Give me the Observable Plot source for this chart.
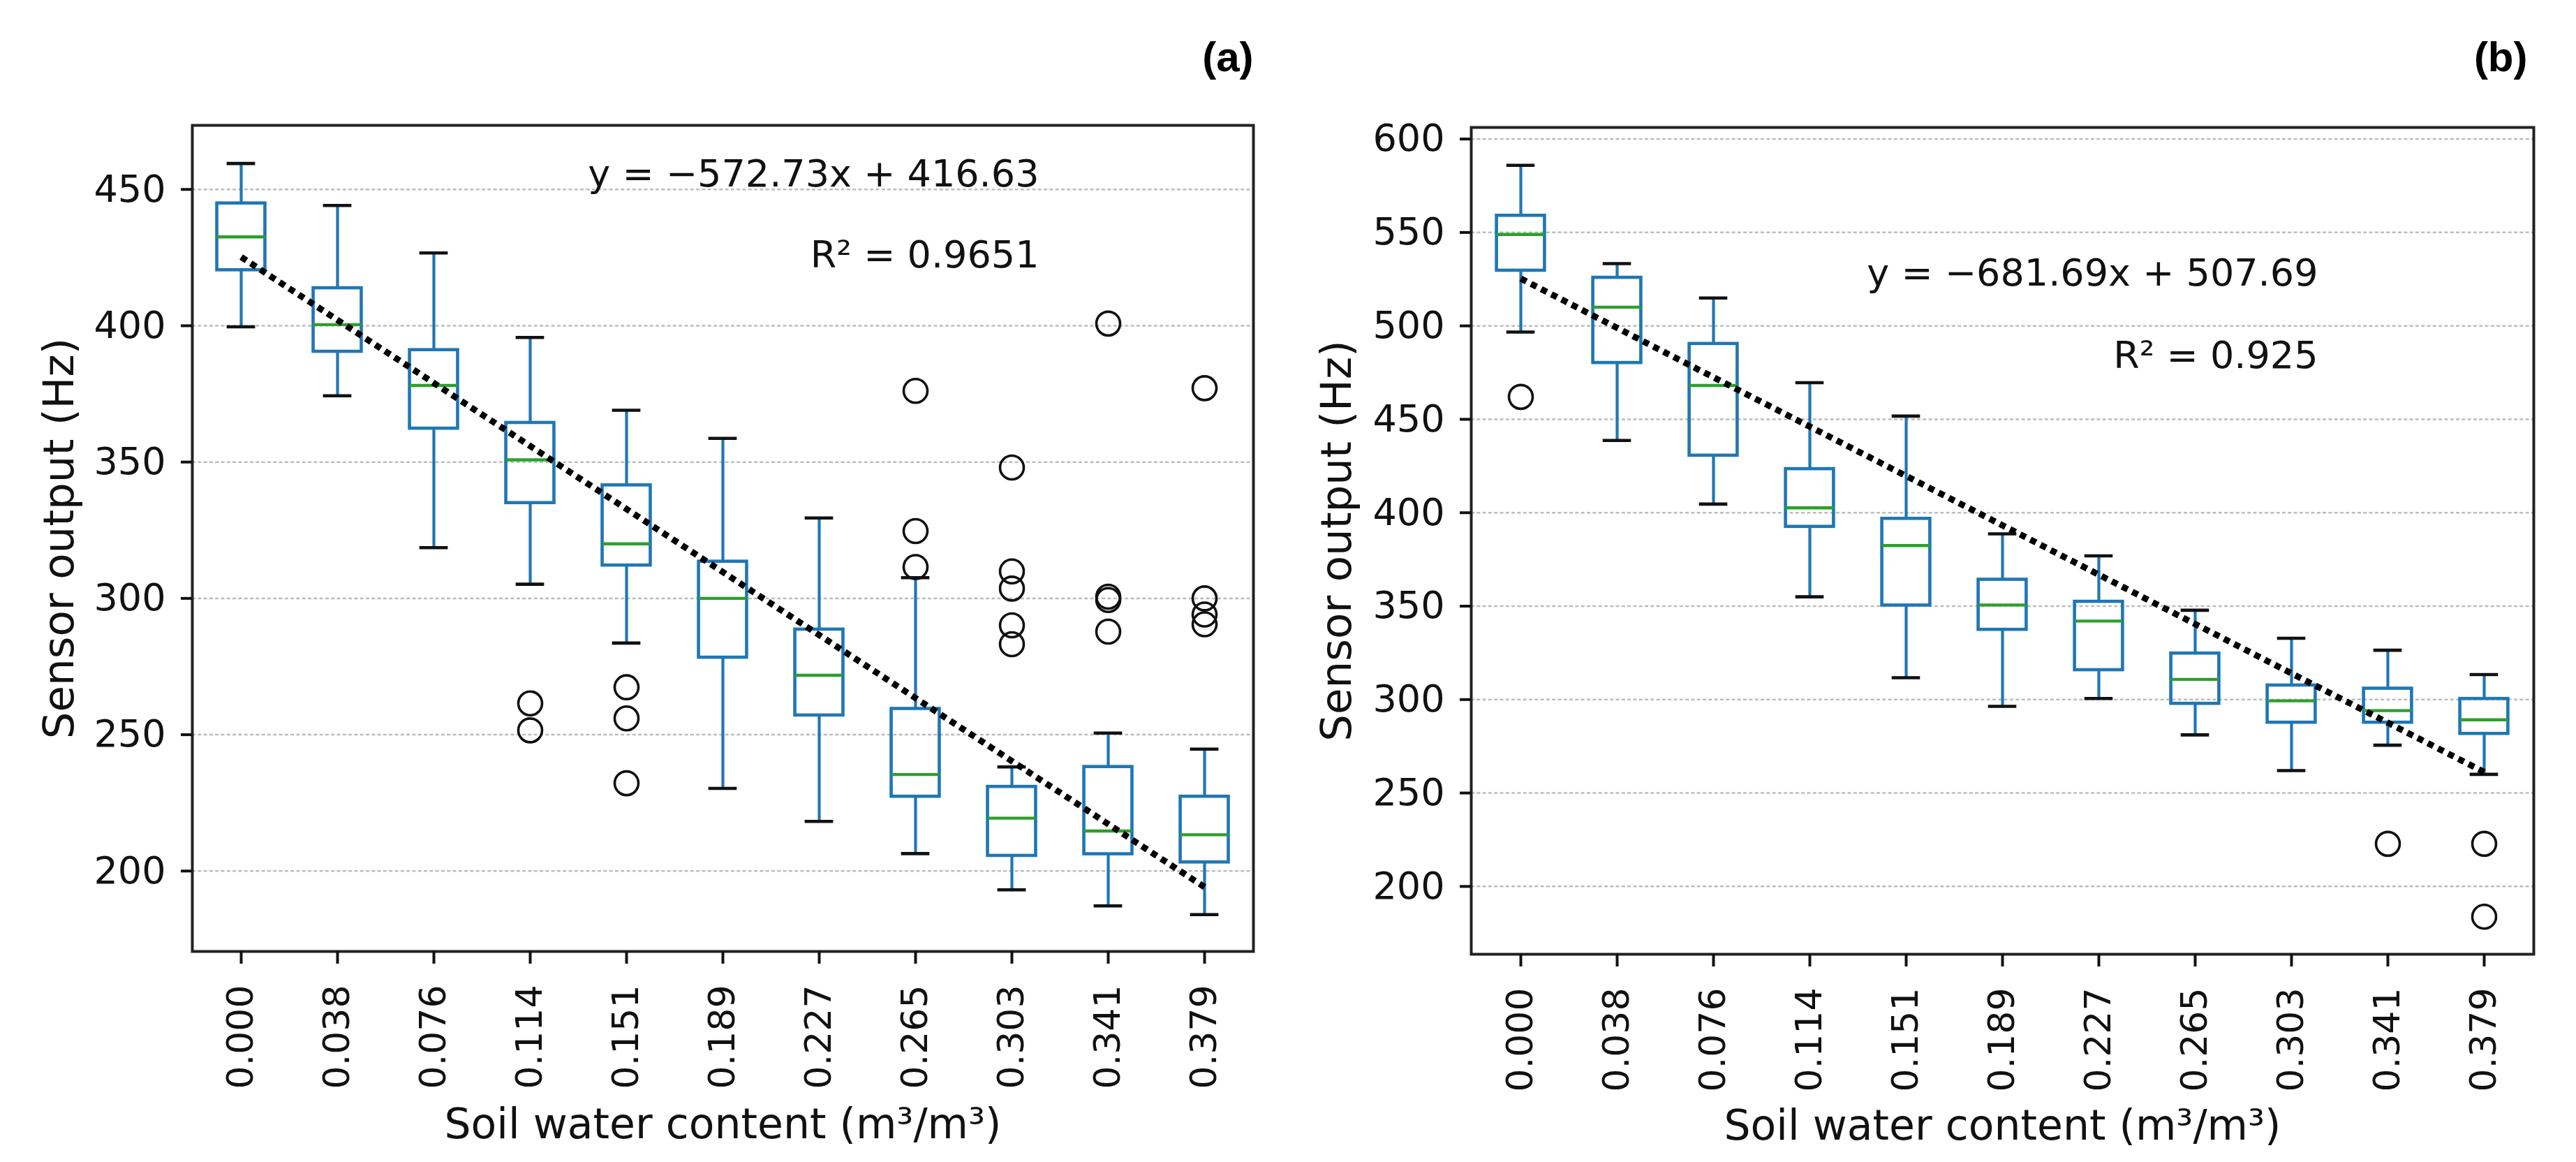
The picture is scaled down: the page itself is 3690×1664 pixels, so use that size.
<!DOCTYPE html>
<html><head><meta charset="utf-8">
<script src="https://cdn.jsdelivr.net/npm/d3@7"></script>
<script src="https://cdn.jsdelivr.net/npm/@observablehq/plot@0.6"></script>
<style>
body{margin:0;background:#fff;}
#wrap{display:flex;width:3690px;height:1664px;background:#fff;}
#wrap svg{display:block}
</style></head><body><div id="wrap"><div id="pa"></div><div id="pb"></div></div>
<script>
// Shared categories: soil water content (m³/m³)
const categories = ["0.000","0.038","0.076","0.114","0.151","0.189","0.227","0.265","0.303","0.341","0.379"];

// Panel (a)
const aWhiskerLow  = [399.6, 374.3, 318.6, 305.2, 283.6, 230.3, 218.2, 206.4, 193.1, 187.2, 184.0];
const aQ1          = [420.4, 390.5, 362.3, 335.0, 312.1, 278.3, 257.1, 227.3, 205.6, 206.2, 203.2];
const aMedian      = [432.6, 400.4, 378.1, 350.8, 320.0, 300.0, 271.8, 235.4, 219.4, 214.7, 213.3];
const aQ3          = [444.9, 413.8, 391.1, 364.4, 341.5, 313.5, 288.6, 259.5, 230.9, 238.2, 227.3];
const aWhiskerHigh = [459.5, 444.1, 426.7, 395.7, 369.0, 358.7, 329.5, 307.6, 238.2, 250.6, 244.7];
const aOutliers = [[], [], [], [261.5, 251.6], [267.4, 256.0, 232.2], [], [], [376.1, 324.7, 311.5],
                   [348.0, 309.9, 303.6, 290.1, 283.2], [400.8, 300.6, 299.4, 287.8], [377.1, 300.0, 294.1, 290.5]];
const aTrend = [425.2, 194.1];           // fitted line at first and last category
const aTicks = [200, 250, 300, 350, 400, 450];
const aEquation = "y = −572.73x + 416.63";
const aR2 = "R² = 0.9651";

// Panel (b)
const bWhiskerLow  = [496.7, 438.7, 404.6, 355.0, 311.7, 296.4, 300.6, 281.1, 262.0, 275.6, 260.0];
const bQ1          = [529.6, 480.2, 430.6, 392.5, 350.4, 337.4, 315.8, 297.8, 287.7, 287.7, 281.7];
const bMedian      = [548.9, 510.0, 468.1, 402.6, 382.4, 350.6, 342.0, 310.8, 299.3, 294.1, 289.2];
const bQ3          = [559.0, 525.8, 490.4, 423.4, 396.8, 364.2, 352.4, 324.7, 307.6, 305.9, 300.4];
const bWhiskerHigh = [585.9, 533.3, 514.9, 469.6, 451.7, 388.7, 376.9, 347.8, 332.8, 326.4, 313.4];
const bOutliers = [[462.0], [], [], [], [], [], [], [], [], [222.8], [222.8, 183.8]];
const bTrend = [525.3, 261.2];
const bTicks = [200, 250, 300, 350, 400, 450, 500, 550, 600];
const bEquation = "y = −681.69x + 507.69";
const bR2 = "R² = 0.925";

const xLabel = "Soil water content (m³/m³)";
const yLabel = "Sensor output (Hz)";

const BLUE = "#1f77b4", GREEN = "#2ca02c";
const FONT = "'DejaVu Sans', sans-serif";

function panel(p) {
  const rows = categories.map((c, i) => ({c, lo: p.lo[i], q1: p.q1[i], med: p.med[i], q3: p.q3[i], hi: p.hi[i]}));
  const outs = categories.flatMap((c, i) => p.outliers[i].map(v => ({c, v})));
  const trend = [{c: categories[0], v: p.trend[0]}, {c: categories[categories.length - 1], v: p.trend[1]}];
  const W = 1845, H = 1664;
  const bw = (W - p.ml - p.mr) / categories.length;
  return Plot.plot({
    width: W, height: H,
    marginLeft: p.ml, marginRight: p.mr, marginTop: p.mt, marginBottom: p.mb,
    style: {fontFamily: FONT, background: "white", color: "#111", overflow: "visible"},
    x: {type: "band", domain: categories, padding: 0, label: null},
    y: {domain: p.domain, label: null},
    marks: [
      Plot.ruleY(p.ticks, {stroke: "#bdbdbd", strokeWidth: 2.5, strokeDasharray: "5,3.3"}),
      Plot.ruleX(rows, {x: "c", y1: "lo", y2: "q1", stroke: BLUE, strokeWidth: 4.2}),
      Plot.ruleX(rows, {x: "c", y1: "q3", y2: "hi", stroke: BLUE, strokeWidth: 4.2}),
      Plot.barY(rows, {x: "c", y1: "q1", y2: "q3", fill: "none", stroke: BLUE, strokeWidth: 4.6,
                       insetLeft: bw * 0.25, insetRight: bw * 0.25}),
      Plot.tickY(rows, {x: "c", y: "med", stroke: GREEN, strokeWidth: 4.4, insetLeft: bw * 0.25, insetRight: bw * 0.25}),
      Plot.tickY(rows, {x: "c", y: "lo", stroke: "#111", strokeWidth: 4.6, insetLeft: bw * 0.352, insetRight: bw * 0.352}),
      Plot.tickY(rows, {x: "c", y: "hi", stroke: "#111", strokeWidth: 4.6, insetLeft: bw * 0.352, insetRight: bw * 0.352}),
      Plot.dot(outs, {x: "c", y: "v", r: 17, stroke: "#111", strokeWidth: 3.6, fill: "none"}),
      Plot.line(trend, {x: "c", y: "v", stroke: "black", strokeWidth: 9, strokeDasharray: "9 7.4",
                        strokeLinecap: "butt", strokeLinejoin: "miter"}),
      Plot.frame({stroke: "#222", strokeWidth: 4}),
      Plot.axisY({ticks: p.ticks, tickSize: 16, tickPadding: 22, fontSize: 54, strokeWidth: 4, label: null}),
      Plot.axisX({tickRotate: -90, tickSize: 18, tickPadding: 30, fontSize: 52, strokeWidth: 4, label: null}),
      Plot.text([p.eq], {text: d => d, frameAnchor: "top-right", dx: p.textDx, dy: p.eqDy,
                         textAnchor: "end", lineAnchor: "bottom", fontSize: 54}),
      Plot.text([p.r2], {text: d => d, frameAnchor: "top-right", dx: p.textDx, dy: p.r2Dy,
                         textAnchor: "end", lineAnchor: "bottom", fontSize: 54}),
      Plot.text([yLabel], {text: d => d, frameAnchor: "left", dx: p.yLabDx, rotate: -90,
                           textAnchor: "middle", lineAnchor: "middle", fontSize: 61}),
      Plot.text([xLabel], {text: d => d, frameAnchor: "bottom", dy: p.xLabDy,
                           textAnchor: "middle", lineAnchor: "middle", fontSize: 60}),
      Plot.text([p.letter], {text: d => d, frameAnchor: "top-right", dx: p.letDx, dy: p.letDy,
                             textAnchor: "end", lineAnchor: "middle", fontSize: 60, fontWeight: "bold",
                             fill: "black", fontFamily: "'Liberation Sans', Arial, sans-serif"})
    ]
  });
}

document.getElementById("pa").append(panel({
  letter: "(a)", lo: aWhiskerLow, q1: aQ1, med: aMedian, q3: aQ3, hi: aWhiskerHigh,
  outliers: aOutliers, trend: aTrend, ticks: aTicks, domain: [170.5, 473.5],
  eq: aEquation, r2: aR2,
  ml: 275, mr: 50, mt: 179, mb: 302,
  textDx: -307, eqDy: 87.5, r2Dy: 203, yLabDx: -190, xLabDy: 248, letDx: 0, letDy: -97
}));
document.getElementById("pb").append(panel({
  letter: "(b)", lo: bWhiskerLow, q1: bQ1, med: bMedian, q3: bQ3, hi: bWhiskerHigh,
  outliers: bOutliers, trend: bTrend, ticks: bTicks, domain: [163.7, 606.2],
  eq: bEquation, r2: bR2,
  ml: 262, mr: 61, mt: 182, mb: 298,
  textDx: -309, eqDy: 226, r2Dy: 344.5, yLabDx: -192, xLabDy: 246, letDx: -9, letDy: -100
}));
</script>
</body></html>
